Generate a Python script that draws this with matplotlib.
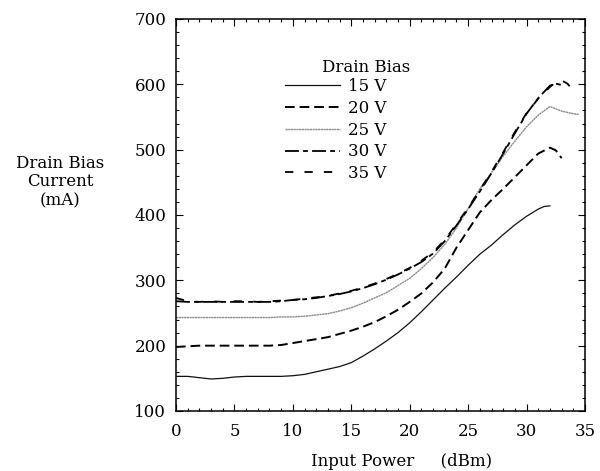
import matplotlib
matplotlib.use("Agg")
import matplotlib.pyplot as plt
from matplotlib.ticker import MultipleLocator

plt.rcParams['font.family'] = ['DejaVu Serif']
plt.rcParams['font.size'] = 12
plt.rcParams['lines.scale_dashes'] = False

# ---- data ----
x_15 = [0, 1, 2, 3, 4, 5, 6, 7, 8, 9, 10, 11, 12, 13, 14, 15, 16, 17, 18, 19, 20,
        21, 22, 23, 24, 25, 26, 27, 28, 29, 30, 31, 31.5, 32]
y_15 = [153, 153, 151, 149, 150, 152, 153, 153, 153, 153, 154, 156, 160, 164, 168, 174,
        184, 195, 207, 220, 235, 252, 270, 288, 305, 323, 340, 354, 370, 385, 398, 409,
        413, 414]

x_20 = [0, 1, 2, 3, 4, 5, 6, 7, 8, 9, 10, 11, 12, 13, 14, 15, 16, 17, 18, 19, 20,
        21, 22, 23, 24, 25, 26, 27, 28, 29, 30, 31, 32, 32.5, 33]
y_20 = [198, 199, 200, 200, 200, 200, 200, 200, 200, 201, 204, 207, 210, 213, 218, 223,
        229, 236, 245, 255, 267, 280, 297, 318, 350, 377, 404, 423, 440, 458, 476, 494,
        503, 499, 487]

x_25 = [0, 1, 2, 3, 4, 5, 6, 7, 8, 9, 10, 11, 12, 13, 14, 15, 16, 17, 18, 19, 20,
        21, 22, 23, 24, 25, 26, 27, 28, 29, 30, 31, 32, 33, 34, 34.5]
y_25 = [243, 243, 243, 243, 243, 243, 243, 243, 243, 244, 244, 245, 247, 249, 253, 258,
        265, 273, 281, 292, 303, 318, 335, 355, 380, 410, 440, 465, 490, 513, 535, 553,
        566, 559, 555, 554]

x_30 = [0, 1, 2, 3, 4, 5, 6, 7, 8, 9, 10, 11, 12, 13, 14, 15, 16, 17, 18, 19, 20,
        21, 22, 23, 24, 25, 26, 27, 28, 29, 30, 31, 32, 32.5, 33]
y_30 = [268, 267, 267, 267, 267, 267, 267, 267, 267, 268, 270, 271, 273, 276, 279, 283,
        288, 294, 301, 309, 318, 328, 341, 360, 384, 409, 436, 464, 494, 525, 555, 579,
        598, 601, 599]

x_35 = [0, 1, 2, 3, 4, 5, 6, 7, 8, 9, 10, 11, 12, 13, 14, 15, 16, 17, 18, 19, 20,
        21, 22, 23, 24, 25, 26, 27, 28, 29, 30, 31, 32, 32.5, 33, 33.5, 34]
y_35 = [273, 268, 267, 268, 267, 268, 268, 267, 268, 269, 270, 272, 274, 276, 280, 284,
        289, 295, 302, 310, 319, 330, 343, 362, 386, 411, 438, 466, 496, 527, 556, 578,
        596, 603, 606, 601, 590]

labels = ["15 V", "20 V", "25 V", "30 V", "35 V"]

fig = plt.figure(figsize=(6.0, 4.71), dpi=100)
ax = fig.add_axes([0.2933, 0.1274, 0.6817, 0.8323])

h15, = ax.plot(x_15, y_15, color='#111111', lw=0.9, label=labels[0])
h20, = ax.plot(x_20, y_20, color='black', lw=1.4, dashes=(7, 3.5), label=labels[1])
h25, = ax.plot(x_25, y_25, color='#8a8a8a', lw=1.0, dashes=(1.6, 0.35), label=labels[2])
h30, = ax.plot(x_30, y_30, color='black', lw=1.3, dashes=(10, 3, 3.5, 3), label=labels[3])
h35, = ax.plot(x_35, y_35, color='black', lw=1.3, dashes=(6, 8), label=labels[4])

ax.set_xlim(0, 35)
ax.set_ylim(100, 700)
ax.xaxis.set_major_locator(MultipleLocator(5))
ax.xaxis.set_minor_locator(MultipleLocator(1))
ax.yaxis.set_major_locator(MultipleLocator(100))
ax.yaxis.set_minor_locator(MultipleLocator(20))
ax.tick_params(which='both', direction='in', top=True, right=True, width=0.8)
ax.tick_params(which='major', length=5)
ax.tick_params(which='minor', length=2.5)
ax.tick_params(axis='x', which='major', pad=9)
ax.tick_params(axis='y', which='major', pad=7)
for s in ax.spines.values():
    s.set_linewidth(1.1)

fig.text(402 / 600, 1 - 462 / 471, "Input Power     (dBm)", ha='center', va='center')
fig.text(60 / 600, 1 - 182 / 471, "Drain Bias\nCurrent\n(mA)", ha='center', va='center',
         linespacing=1.15)

leg = ax.legend(handles=[h15, h20, h25, h30, h35], labels=labels, frameon=False,
                loc='upper left', bbox_to_anchor=(285 / 600, 1 - 78 / 471),
                bbox_transform=fig.transFigure, borderpad=0, borderaxespad=0,
                handlelength=3.3, handletextpad=0.45, labelspacing=0.29)
fig.text(366 / 600, 1 - 68 / 471, "Drain Bias", ha='center', va='center')

fig.savefig("out.png", dpi=100)
